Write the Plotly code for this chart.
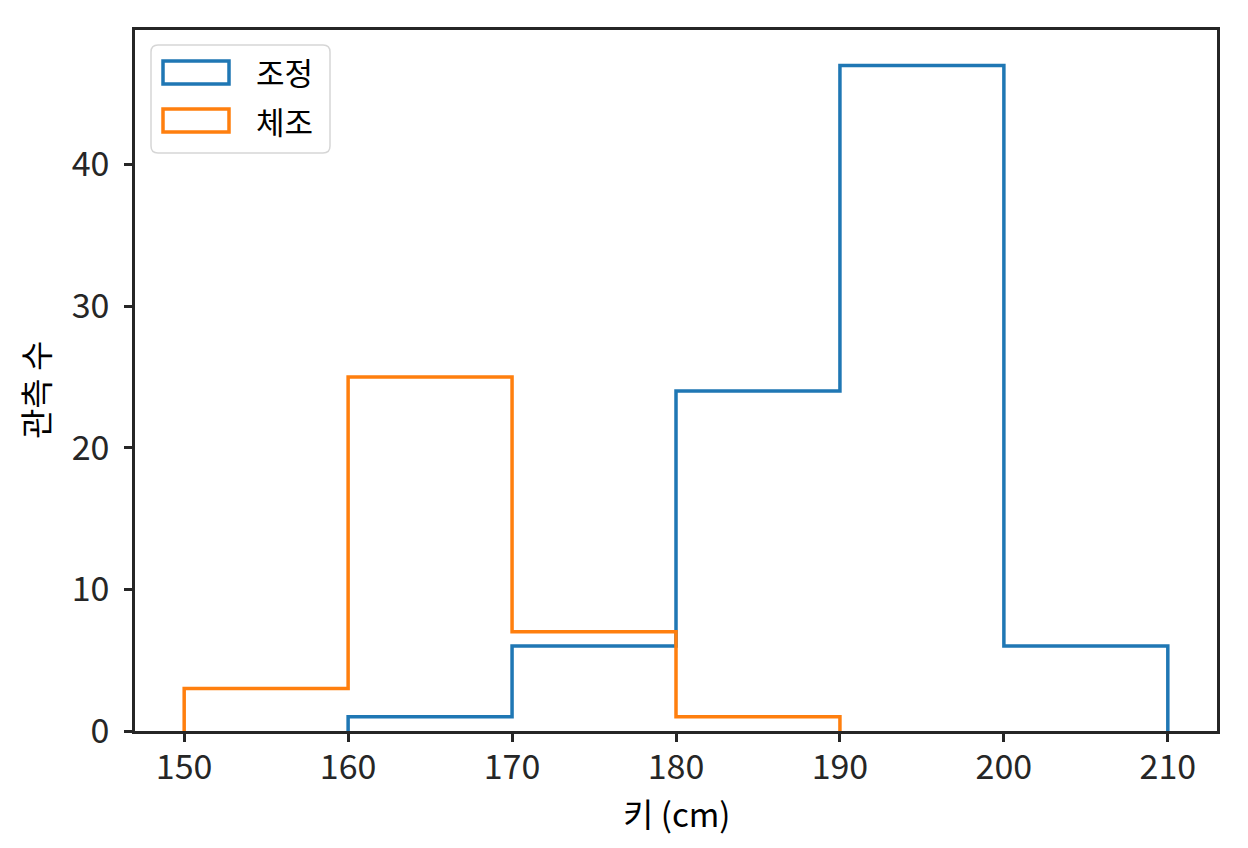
import plotly.graph_objects as go

# histogram bins (step outline)
rowing_edges = [160, 170, 180, 190, 200, 210]
rowing_counts = [1, 6, 24, 47, 6]
gym_edges = [150, 160, 170, 180, 190]
gym_counts = [3, 25, 7, 1]

x_ticks = [150, 160, 170, 180, 190, 200, 210]
y_ticks = [0, 10, 20, 30, 40]

BLUE = "#1f77b4"
ORANGE = "#ff7f0e"
FONT = "Noto Sans CJK KR"
TXT = "#262626"


def step_xy(edges, counts):
    # outline of a histtype='step' histogram
    xs = [edges[0]] + list(edges)
    ys = [0] + list(counts) + [0]
    return xs, ys


fig = go.Figure()
for edges, counts, color, name in [
    (rowing_edges, rowing_counts, BLUE, "조정"),
    (gym_edges, gym_counts, ORANGE, "체조"),
]:
    xs, ys = step_xy(edges, counts)
    fig.add_trace(go.Scatter(
        x=xs, y=ys, name=name, mode="lines",
        line=dict(color=color, width=3.5, shape="hv"),
        showlegend=False,
    ))

# page is offset 8px by the body margin; plot area in page pixels 135..1217 x 30..731
OFF = 8
W, H = 1248 - OFF, 848 - OFF
L, R, T, B = 135, 1217, 30, 731


def px(x):
    return (x - L) / (R - L)


def py(y):
    return (B - y) / (B - T)


def rounded_box(x0, y0, x1, y1, r=7):
    # rounded rectangle path in paper coords, corners given in page pixels
    a, b, c, d = px(x0), px(x1), py(y1), py(y0)
    rx, ry = r / (R - L), r / (B - T)
    return (f"M{a+rx},{c} L{b-rx},{c} Q{b},{c} {b},{c+ry} L{b},{d-ry} "
            f"Q{b},{d} {b-rx},{d} L{a+rx},{d} Q{a},{d} {a},{d-ry} "
            f"L{a},{c+ry} Q{a},{c} {a+rx},{c} Z")


shapes = [
    dict(type="path", xref="paper", yref="paper",
         path=rounded_box(151, 45, 330, 153),
         line=dict(color="#d6d6d6", width=1.5), fillcolor="rgba(255,255,255,0.8)"),
    dict(type="rect", xref="paper", yref="paper",
         x0=px(163), x1=px(229), y0=py(84), y1=py(61),
         line=dict(color=BLUE, width=3.5)),
    dict(type="rect", xref="paper", yref="paper",
         x0=px(163), x1=px(229), y0=py(132), y1=py(109),
         line=dict(color=ORANGE, width=3.5)),
]
annotations = [
    dict(text="조정", xref="paper", yref="paper", x=px(254), y=py(72),
         xanchor="left", yanchor="middle", showarrow=False,
         font=dict(family=FONT, size=31, color="#000000")),
    dict(text="체조", xref="paper", yref="paper", x=px(254), y=py(120),
         xanchor="left", yanchor="middle", showarrow=False,
         font=dict(family=FONT, size=31, color="#000000")),
    dict(text="키 (cm)", xref="paper", yref="paper", x=px(676), y=py(813),
         xanchor="center", yanchor="middle", showarrow=False,
         font=dict(family=FONT, size=33, color="#000000")),
    dict(text="관측 수", xref="paper", yref="paper", x=px(35), y=py(390),
         xanchor="center", yanchor="middle", showarrow=False, textangle=-90,
         font=dict(family=FONT, size=33, color="#000000")),
]

fig.update_layout(
    width=W, height=H,
    margin=dict(l=L - OFF, r=W - (R - OFF), t=T - OFF, b=H - (B - OFF)),
    paper_bgcolor="white", plot_bgcolor="white",
    font=dict(family=FONT, size=34, color=TXT),
    shapes=shapes, annotations=annotations,
    showlegend=False,
)
fig.update_xaxes(
    range=[147, 213], tickvals=x_ticks, showgrid=False, zeroline=False,
    showline=True, linecolor=TXT, linewidth=2.5, mirror=True,
    ticks="outside", ticklen=8, tickwidth=2.5, tickcolor=TXT,
    ticklabelstandoff=-4,
)
fig.update_yaxes(
    range=[0, 49.5], tickvals=y_ticks, showgrid=False, zeroline=False,
    showline=True, linecolor=TXT, linewidth=2.5, mirror=True,
    ticks="outside", ticklen=8, tickwidth=2.5, tickcolor=TXT,
    ticklabelstandoff=8,
)

fig.write_html("out.html")
